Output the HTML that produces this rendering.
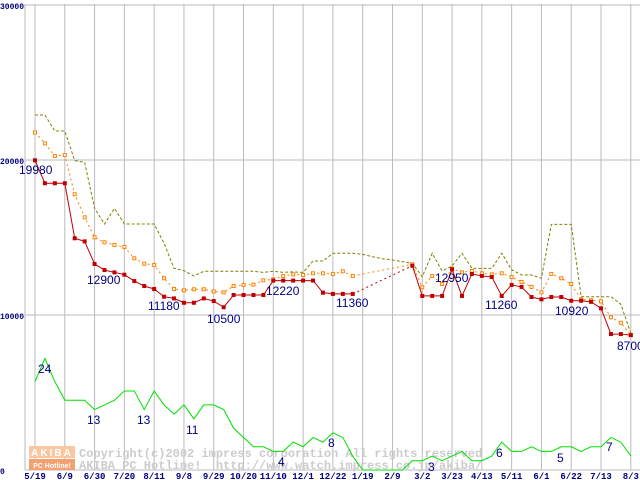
<!DOCTYPE html>
<html><head><meta charset="utf-8"><style>
html,body{margin:0;padding:0;background:#fff;}
svg{display:block;}
</style></head><body>
<svg id="chart" width="640" height="480" viewBox="0 0 640 480" xmlns="http://www.w3.org/2000/svg" style="font-family:'Liberation Sans',sans-serif">
<g id="grid"></g>
<g id="watermark">
 <rect x="29" y="446" width="46" height="12" fill="#f9c8a0"/>
 <rect x="29" y="459" width="46" height="11" fill="#f4a070"/>
 <text x="52" y="456" font-size="10" font-weight="bold" fill="#fff" text-anchor="middle" letter-spacing="2">AKIBA</text>
 <text x="52" y="468" font-size="7" font-weight="bold" fill="#fff" text-anchor="middle">PC Hotline!</text>
 <text x="79" y="457" font-size="12" font-weight="bold" fill="#cccccc" style="font-family:'Liberation Mono',monospace">Copyright(c)2002 impress corporation All rights reserved</text>
 <text x="79" y="469" font-size="12" font-weight="bold" fill="#cccccc" style="font-family:'Liberation Mono',monospace" xml:space="preserve">AKIBA PC Hotline!  http://www.watch.impress.co.jp/akiba/</text>
</g>
<g id="series"></g>
<g id="labels"></g>
</svg>
<script>
const xLabels=["5/19","6/9","6/30","7/20","8/11","9/8","9/29","10/20","11/10","12/1","12/22","1/19","2/9","3/2","3/23","4/13","5/11","6/1","6/22","7/13","8/3"];
const yTicks=[0,10000,20000,30000];
const minPrice=[19980,18500,18500,18500,14950,14750,13290,12900,12750,12600,12190,11870,11680,11180,11070,10790,10790,11070,10900,10500,11290,11290,11290,11290,12220,12220,12220,12220,12220,11440,11360,11360,11360,null,null,null,null,null,13180,11230,11230,11230,12950,11230,12650,12520,12450,11230,11940,11810,11160,11010,11160,11160,10920,10920,10850,10430,8770,8770,8700];
const avgPrice=[21780,21070,20260,20320,17790,16300,15010,14690,14520,14390,13660,13310,13230,12370,11680,11590,11660,11660,11520,11460,11870,11940,11960,12240,12300,12520,12620,12580,12690,12690,12650,12820,12520,null,null,null,null,null,13270,11790,12520,12000,12990,12750,12840,12690,12620,12690,12450,12130,11810,11460,12650,12370,12000,11010,10950,10880,9850,9500,8710];
const maxPrice=[22900,22900,21870,21870,19960,19850,16880,15870,16880,15870,15870,15870,15870,14620,13010,12860,12520,12820,12820,12820,12820,12820,12820,12750,12820,12750,12780,12750,13480,13480,13980,13980,13980,13910,13760,13630,13550,13440,13330,12470,13980,12840,13160,13980,13010,13010,13010,13980,12920,12580,12580,12370,15850,15850,15850,11180,11180,11180,11180,10690,8820];
const shopCount=[19,24,19,15,15,15,13,14,15,17,17,13,17,14,12,14,11,14,14,13,9,7,5,5,4,4,6,5,7,6,8,7,3,0,0,0,0,0,2,2,3,2,3,4,2,2,3,6,4,4,5,4,4,5,5,4,5,5,7,6,3];
const priceNotes=[[0,19980,"19980",19,174],[7,12900,"12900",87,284],[13,11180,"11180",148,310],[19,10500,"10500",207,323],[24,12220,"12220",266,295],[30,11360,"11360",336,307],[42,12950,"12950",435,282],[47,11260,"11260",485,309],[54,10920,"10920",555,315],[60,8700,"8700",617,350]];
const countNotes=[["24",38,373],["13",87,424],["13",137,424],["11",186,434],["4",278,466],["8",328,447],["3",428,471],["6",496,457],["5",557,462],["7",606,451]];

const NS="http://www.w3.org/2000/svg";
const X=i=>35+i*9.93;
const Y=v=>470-v*0.0155;
function mk(tag,attrs,parent){const e=document.createElementNS(NS,tag);for(const k in attrs)e.setAttribute(k,attrs[k]);parent.appendChild(e);return e;}
const grid=document.getElementById('grid'),series=document.getElementById('series'),labels=document.getElementById('labels');
let ax=mk('line',{x1:25,y1:4,x2:25,y2:470,stroke:'#bbb'},grid);


yTicks.forEach(v=>{
 const l=mk('line',{x1:25,y1:Y(v),x2:640,y2:Y(v),stroke:'#bbb'},grid);
 
 
 const t=mk('text',{x:0,y:Y(v)+4,'font-size':8,'font-weight':'bold',fill:'#000080',style:"font-family:'Liberation Mono',monospace"},labels);
 t.textContent=String(v);
 
 
});
xLabels.forEach((s,k)=>{
 const x=X(k*3);
 const l=mk('line',{x1:x,y1:4,x2:x,y2:470,stroke:'#bbb'},grid);
 
 
 const t=mk('text',{x:x,y:479,'font-size':9,'font-weight':'bold',fill:'#000080','text-anchor':'middle',style:"font-family:'Liberation Mono',monospace"},labels);
 t.textContent=s;
 
 
});
function drawLine(arr,color,dash,name,scale){
 scale=scale||1;
 let seg=[],prev=null;
 arr.forEach((v,i)=>{
  if(v===null)return;
  if(prev!==null && i-prev>1){
   const g=mk('line',{x1:X(prev),y1:Y(arr[prev]*scale),x2:X(i),y2:Y(v*scale),stroke:color,'stroke-dasharray':'2,3'},series);
   
   
   if(seg.length){const p=mk('polyline',{points:seg.join(' '),fill:'none',stroke:color,'stroke-dasharray':dash},series);}
   seg=[];
  }
  seg.push(X(i)+','+Y(v*scale));prev=i;
 });
 const p=mk('polyline',{points:seg.join(' '),fill:'none',stroke:color,'stroke-dasharray':dash},series);
 
 
}
drawLine(shopCount,'#00e000','none','shop-count-line',300);
drawLine(maxPrice,'#808000','3,2','max-price-line');
drawLine(avgPrice,'#ff8000','2,3','avg-price-line');
drawLine(minPrice,'#c00000','none','min-price-line');
avgPrice.forEach((v,i)=>{if(v===null)return;
 const r=mk('rect',{x:X(i)-1.5,y:Y(v)-1.5,width:3,height:3,fill:'#fff',stroke:'#ff8000'},series);
 
 
});
minPrice.forEach((v,i)=>{if(v===null)return;
 const r=mk('rect',{x:X(i)-2,y:Y(v)-2,width:4,height:4,fill:'#c00000'},series);
 
 
});
priceNotes.forEach(n=>{
 const t=mk('text',{x:n[3],y:n[4],'font-size':12,fill:'#000080'},labels);
 t.textContent=n[2];
 
 
});
countNotes.forEach(n=>{
 const t=mk('text',{x:n[1],y:n[2],'font-size':12,fill:'#000080'},labels);
 t.textContent=n[0];
 
 
});
</script>
</body></html>
